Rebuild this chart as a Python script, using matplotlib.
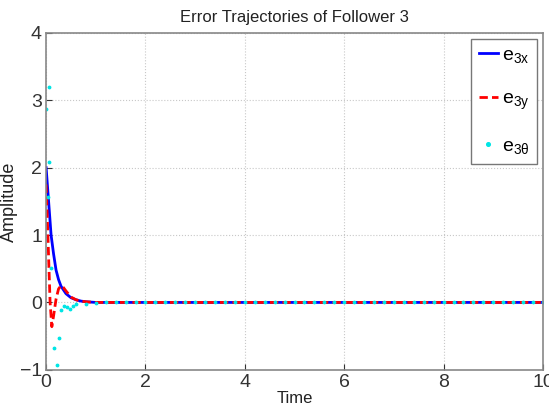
import matplotlib
matplotlib.use('Agg')
import matplotlib.pyplot as plt

plt.rcParams['font.family'] = ['Liberation Sans', 'DejaVu Sans']
plt.rcParams['mathtext.fontset'] = 'custom'
plt.rcParams['mathtext.rm'] = 'Liberation Sans'
plt.rcParams['mathtext.it'] = 'Liberation Sans'

# e3x (solid blue)
tx = [0, 0.05, 0.1, 0.15, 0.2, 0.25, 0.3, 0.4, 0.5, 0.6, 0.7, 0.8, 1.0, 10]
ex = [2.0, 1.5, 1.0, 0.72, 0.48, 0.34, 0.24, 0.13, 0.07, 0.04, 0.02, 0.01, 0.0, 0.0]

# e3y (dashed red)
ty = [0, 0.04, 0.08, 0.115, 0.15, 0.2, 0.25, 0.3, 0.35, 0.4, 0.5, 0.6, 0.7, 0.8, 1.0, 10]
ey = [1.75, 0.9, 0.0, -0.36, -0.2, 0.05, 0.2, 0.25, 0.22, 0.17, 0.08, 0.04, 0.02, 0.01, 0.0, 0.0]

# e3theta (cyan dots)
tt = [0.006, 0.03, 0.054, 0.067, 0.1, 0.16, 0.22, 0.25, 0.30, 0.36, 0.42, 0.48, 0.54,
      0.6, 0.8, 1.0, 1.2, 1.4, 1.6, 1.8, 2.0, 2.2, 2.4, 2.6, 2.8, 3.0, 3.2, 3.4, 3.6,
      3.8, 4.0, 4.2, 4.4, 4.6, 4.8, 5.0, 5.2, 5.4, 5.6, 5.8, 6.0, 6.2, 6.4, 6.6, 6.8,
      7.0, 7.2, 7.4, 7.6, 7.8, 8.0, 8.2, 8.4, 8.6, 8.8, 9.0, 9.2, 9.4, 9.6, 9.8, 10.0]
et = [2.87, 1.57, 3.19, 2.08, 0.51, -0.67, -0.93, -0.53, -0.11, -0.05, -0.07, -0.1, -0.06,
      -0.03, -0.02, -0.01, 0, 0, 0, 0, 0, 0, 0, 0, 0, 0, 0, 0, 0,
      0, 0, 0, 0, 0, 0, 0, 0, 0, 0, 0, 0, 0, 0, 0, 0,
      0, 0, 0, 0, 0, 0, 0, 0, 0, 0, 0, 0, 0, 0, 0, 0]

fig = plt.figure(figsize=(5.49, 4.16), dpi=100)
ax = fig.add_axes([0.084, 0.111, 0.905, 0.81])

ax.plot(tx, ex, color='#0000ff', lw=2, label='e$_{3x}$')
ax.plot(ty, ey, color='#ff0000', lw=2, ls=(0, (3, 1.5)), label='e$_{3y}$')
ax.plot(tt, et, color='#00e5e5', ls='none', marker='.', markersize=3.5, label=r'e$_{3\theta}$')

ax.set_xlim(0, 10)
ax.set_ylim(-1, 4)
ax.set_xticks([0, 2, 4, 6, 8, 10])
ax.set_yticks([-1, 0, 1, 2, 3, 4])
ax.grid(True, ls=':', color='#c8c8c8', lw=0.8)
ax.tick_params(direction='in', labelsize=14, colors='#333333', length=4, pad=3)
for s in ax.spines.values():
    s.set_color('#888888')
    s.set_linewidth(1.2)

ax.set_title('Error Trajectories of Follower 3', fontsize=12, color='#222222', pad=8)
ax.set_xlabel('Time', fontsize=12, color='#222222', labelpad=0)
ax.set_ylabel('Amplitude', fontsize=13, color='#222222', labelpad=1)

leg = ax.legend(loc='upper right', fontsize=14, labelspacing=1.3, handlelength=1.0,
                handletextpad=0.2, borderpad=0.4, fancybox=False, framealpha=1,
                edgecolor='#777777', borderaxespad=0.3, markerscale=1.5)

fig.savefig('out.png', dpi=100)
